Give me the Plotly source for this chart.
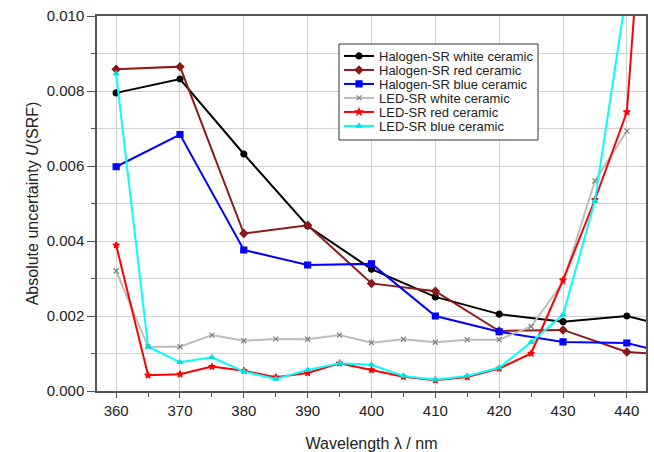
import plotly.graph_objects as go

# Data
wl_halogen = [360, 370, 380, 390, 400, 410, 420, 430, 440, 450]
hal_white = [0.00795, 0.00832, 0.00632, 0.00440, 0.00325, 0.00251, 0.00205, 0.00185, 0.00200, 0.00157]
hal_red = [0.00858, 0.00865, 0.00420, 0.00442, 0.00287, 0.00266, 0.00160, 0.00163, 0.00104, 0.00092]
hal_blue = [0.00598, 0.00684, 0.00376, 0.00336, 0.00339, 0.00200, 0.00158, 0.00131, 0.00128, 0.00086]

wl_led = [360, 365, 370, 375, 380, 385, 390, 395, 400, 405, 410, 415, 420, 425, 430, 435, 440, 445]
led_white = [0.00320, 0.00118, 0.00118, 0.00149, 0.00134, 0.00139, 0.00138, 0.00149, 0.00129, 0.00138,
             0.00130, 0.00137, 0.00137, 0.00172, 0.00290, 0.00560, 0.00693, None]
led_red = [0.00389, 0.00042, 0.00045, 0.00065, 0.00054, 0.00037, 0.00048, 0.00074, 0.00056, 0.00038,
           0.00029, 0.00037, 0.00060, 0.00100, 0.00296, 0.00510, 0.00744, 0.01900]
led_blue = [0.00846, 0.00118, 0.00077, 0.00090, 0.00052, 0.00032, 0.00056, 0.00074, 0.00070, 0.00040,
            0.00030, 0.00040, 0.00062, 0.00130, 0.00203, 0.00507, 0.01070, None]

series = [
    ("Halogen-SR white ceramic", wl_halogen, hal_white, "#000000", "#000000", "circle", 6),
    ("Halogen-SR red ceramic", wl_halogen, hal_red, "#8b1a1a", "#8b1a1a", "diamond", 6),
    ("Halogen-SR blue ceramic", wl_halogen, hal_blue, "#0000ff", "#0000ff", "square", 6),
    ("LED-SR white ceramic", wl_led, led_white, "#bdbdbd", "#7f7f7f", "x-thin-open", 5),
    ("LED-SR red ceramic", wl_led, led_red, "#ff0000", "#ff0000", "star", 5),
    ("LED-SR blue ceramic", wl_led, led_blue, "#00ffff", "#00e0e0", "triangle-up", 5),
]

FONT = "Liberation Sans, Arial, sans-serif"
W, H = 654, 452
ML, MR, MT, MB = 97, 8, 16, 61
PW, PH = W - ML - MR, H - MT - MB

# legend geometry in pixels (page coords)
LEG_LEFT, LEG_RIGHT, LEG_TOP, LEG_BOTTOM = 339, 538, 44, 140
ROW0, ROW_STEP = 56, 14

def px_to_paper_x(px):
    return (px - ML) / PW

def px_to_paper_y(py):
    return (H - MB - py) / PH

fig = go.Figure()
layout_legends = {}
for i, (name, x, y, lc, mc, sym, ms) in enumerate(series):
    key = "legend" if i == 0 else f"legend{i + 1}"
    fig.add_trace(go.Scatter(
        x=x, y=y, name=name, mode="lines+markers",
        line=dict(color=lc, width=2),
        marker=dict(symbol=sym, size=ms, color=mc, line=dict(color=mc, width=1.2)),
        connectgaps=False, legend=key,
    ))
    layout_legends[key] = dict(
        x=px_to_paper_x(LEG_LEFT), y=px_to_paper_y(ROW0 + i * ROW_STEP),
        xanchor="left", yanchor="middle",
        bgcolor="rgba(0,0,0,0)", borderwidth=0,
        font=dict(family=FONT, size=13, color="#222"),
        itemwidth=30,
    )

fig.update_layout(
    width=W, height=H,
    margin=dict(l=ML, r=MR, t=MT, b=MB, autoexpand=False),
    paper_bgcolor="white", plot_bgcolor="white",
    font=dict(family=FONT, size=13, color="#222"),
    showlegend=True,
    **layout_legends,
)

# legend frame
fig.add_shape(
    type="rect", xref="paper", yref="paper", layer="above",
    x0=px_to_paper_x(LEG_LEFT), x1=px_to_paper_x(LEG_RIGHT),
    y0=px_to_paper_y(LEG_BOTTOM), y1=px_to_paper_y(LEG_TOP),
    line=dict(color="#333", width=1), fillcolor="white",
)

axis_font = dict(family=FONT, size=15, color="#222")

fig.update_xaxes(
    range=[357, 443], dtick=10, tick0=360,
    showgrid=True, gridcolor="#d0d0d0", gridwidth=1,
    ticks="outside", ticklen=5, tickcolor="#555",
    minor=dict(dtick=5, tick0=360, ticks="outside", ticklen=4, tickcolor="#555", showgrid=False),
    showline=True, linecolor="#555", linewidth=1.5, mirror=True,
    tickfont=axis_font, zeroline=False, automargin=False,
    title=dict(text="Wavelength λ / nm", font=dict(family=FONT, size=16, color="#222"), standoff=21),
)
fig.update_yaxes(
    range=[0, 0.010], dtick=0.002, tick0=0, tickformat=".3f",
    showgrid=True, gridcolor="#d0d0d0", gridwidth=1,
    ticks="outside", ticklen=8, tickcolor="#555",
    minor=dict(dtick=0.001, tick0=0, ticks="outside", ticklen=4, tickcolor="#555", showgrid=True, gridcolor="#d0d0d0"),
    showline=True, linecolor="#555", linewidth=1.5, mirror=True,
    tickfont=axis_font, zeroline=False, automargin=False,
    title=dict(text="Absolute uncertainty <i>U</i>(SRF)", font=dict(family=FONT, size=16, color="#222"), standoff=4),
)

fig.write_html("out.html", config={"displayModeBar": False},
               post_script="document.body.style.margin='0';")
